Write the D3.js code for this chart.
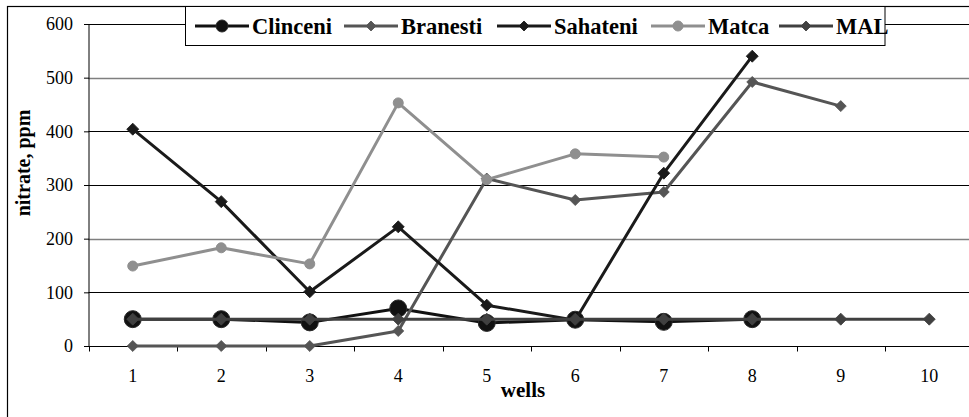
<!DOCTYPE html>
<html><head><meta charset="utf-8">
<script src="https://cdn.jsdelivr.net/npm/d3@7"></script>
<style>
body{margin:0;background:#fff;overflow:hidden}
svg{display:block}
text{font-family:"Liberation Serif","Times New Roman",serif}
</style></head><body>
<script>
// ---- data ----
const wells = ["1","2","3","4","5","6","7","8","9","10"];
const yTicks = [0,100,200,300,400,500,600];
const seriesNames = ["Clinceni","Branesti","Sahateni","Matca","MAL"];
const clinceni = [50,50,44,70,43,49,45,50];
const branesti = [0,0,0,28,312,272,287,492,447];
const sahateni = [404,269,101,222,76,48,322,540];
const matca = [149,183,153,453,310,358,352];
const mal = [50,50,50,50,50,50,50,50,50,50];
const yTitle = "nitrate, ppm";
const xTitle = "wells";

// ---- styles ----
const styles = {
  Clinceni:{color:"#111", marker:"circle", r:8.5, lr:6, stroke:"#2a2a2a"},
  Branesti:{color:"#555", marker:"diamond", r:5.5, lr:5, stroke:"#555"},
  Sahateni:{color:"#1a1a1a", marker:"diamond", r:6, lr:5, stroke:"#1a1a1a"},
  Matca:{color:"#8f8f8f", marker:"circle", r:5, lr:5, stroke:"#8f8f8f"},
  MAL:{color:"#404040", marker:"diamond", r:6, lr:5, stroke:"#404040"}
};
const seriesData = [clinceni, branesti, sahateni, matca, mal];

const W = 969, H = 417;
const svg = d3.select("body").append("svg").attr("width", W).attr("height", H);
svg.append("rect").attr("width", W).attr("height", H).attr("fill", "#fff");

// outer frame (extends beyond the window on the right and bottom)
svg.append("rect").attr("x", 7.5).attr("y", 6.5).attr("width", 1000).attr("height", 1000)
  .attr("fill", "none").attr("stroke", "#000").attr("stroke-width", 1.2);

const pLeft = 88.5, pRight = 973.5, pTop = 24, pBottom = 346;
const x = d3.scaleBand().domain(wells).range([pLeft, pRight]).padding(0);
const y = d3.scaleLinear().domain([0, 600]).range([pBottom, pTop]);

// gridlines
svg.append("g").selectAll("line").data(yTicks.filter(d => d > 0)).join("line")
  .attr("x1", pLeft).attr("x2", pRight)
  .attr("y1", d => Math.round(y(d)) + 0.5).attr("y2", d => Math.round(y(d)) + 0.5)
  .attr("stroke", d => (d === 500 || d === 200) ? "#7f7f7f" : "#000")
  .attr("stroke-width", d => (d === 500 || d === 200) ? 1.6 : 1);

// y axis
const yAxis = svg.append("g").attr("transform", `translate(${pLeft + 0.5},0)`)
  .call(d3.axisLeft(y).tickValues(yTicks).tickSize(5).tickPadding(11).tickFormat(d3.format("d")));
yAxis.select(".domain").attr("stroke", "#000").attr("d", `M0,${pTop}V${pBottom}`);
yAxis.selectAll(".tick line").attr("stroke", "#000");
yAxis.selectAll("text").attr("font-size", 18).attr("fill", "#000")
  .attr("font-family", '"Liberation Serif","Times New Roman",serif');

// x axis: labels at band centres
const xAxis = svg.append("g").attr("transform", `translate(0,${pBottom + 0.5})`)
  .call(d3.axisBottom(x).tickSize(0).tickPadding(23));
xAxis.select(".domain").attr("stroke", "#000").attr("d", `M${pLeft},0H${pRight}`);
xAxis.selectAll("text").attr("font-size", 18).attr("fill", "#000")
  .attr("font-family", '"Liberation Serif","Times New Roman",serif');
// boundary ticks
const boundaries = d3.range(wells.length + 1).map(i => pLeft + i * x.step());
svg.append("g").selectAll("line").data(boundaries).join("line")
  .attr("x1", d => Math.round(d) + 0.5).attr("x2", d => Math.round(d) + 0.5)
  .attr("y1", pBottom).attr("y2", pBottom + 5.5).attr("stroke", "#000");

// titles
svg.append("text").attr("transform", `translate(30,${(pTop + pBottom) / 2 - 22}) rotate(-90)`)
  .attr("text-anchor", "middle").attr("font-weight", "bold").attr("font-size", 20).text(yTitle);
svg.append("text").attr("x", 523).attr("y", 397).attr("text-anchor", "middle")
  .attr("font-weight", "bold").attr("font-size", 21).text(xTitle);

// series
const line = d3.line().x((d, i) => x(wells[i]) + x.bandwidth() / 2).y(d => y(d));
function drawMarker(g, st, cx, cy, r) {
  if (st.marker === "circle") {
    g.append("circle").attr("cx", cx).attr("cy", cy).attr("r", r)
      .attr("fill", st.color).attr("stroke", st.stroke).attr("stroke-width", 1);
  } else {
    const side = r * Math.SQRT2;
    g.append("path").attr("d", d3.symbol().type(d3.symbolSquare).size(side * side)())
      .attr("transform", `translate(${cx},${cy}) rotate(45)`)
      .attr("fill", st.color).attr("stroke", st.stroke).attr("stroke-width", 0.8);
  }
}
seriesNames.forEach((name, k) => {
  const st = styles[name];
  const vals = seriesData[k];
  const g = svg.append("g");
  g.append("path").attr("d", line(vals)).attr("fill", "none")
    .attr("stroke", st.color).attr("stroke-width", 3).attr("stroke-linejoin", "round");
  vals.forEach((v, i) => drawMarker(g, st, x(wells[i]) + x.bandwidth() / 2, y(v), st.r));
});

// legend
const lg = svg.append("g");
lg.append("rect").attr("x", 185.5).attr("y", 6.5).attr("width", 699.5).attr("height", 39)
  .attr("fill", "#fff").attr("stroke", "#000").attr("stroke-width", 1);
const legendX = [195, 344, 497, 651, 779];
seriesNames.forEach((name, k) => {
  const st = styles[name];
  const x0 = legendX[k];
  lg.append("line").attr("x1", x0).attr("x2", x0 + 54).attr("y1", 26).attr("y2", 26)
    .attr("stroke", st.color).attr("stroke-width", 3);
  drawMarker(lg, st, x0 + 27, 26, st.lr);
  lg.append("text").attr("x", x0 + 57).attr("y", 33.5).attr("font-weight", "bold")
    .attr("font-size", 22.5).attr("fill", "#000").text(name);
});
</script>
</body></html>
